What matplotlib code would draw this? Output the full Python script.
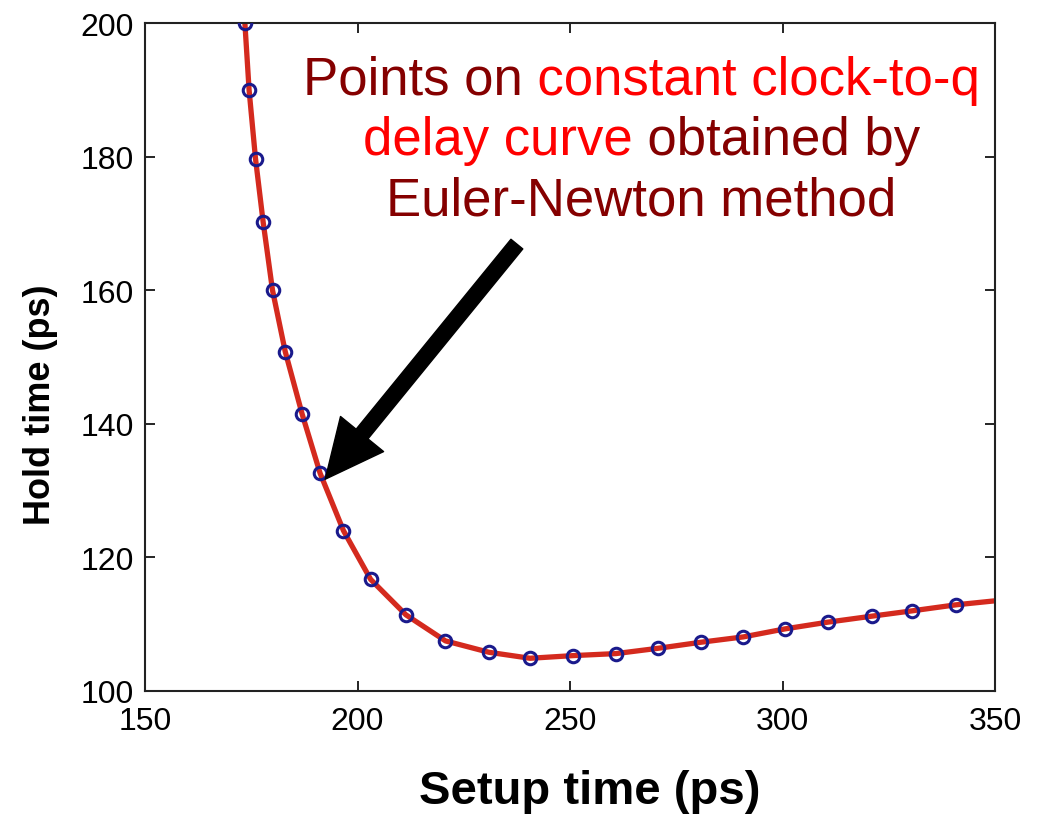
import matplotlib
matplotlib.use("Agg")
import matplotlib.pyplot as plt
from matplotlib.transforms import Bbox

# ---- data ----
setup_pts = [173.5, 174.5, 176.0, 177.8, 180.0, 183.0, 187.0, 191.2, 196.7, 203.1,
             211.4, 220.7, 230.9, 240.6, 250.8, 260.8, 270.8, 280.8, 290.8, 300.6,
             310.6, 321.0, 330.5, 340.8]
hold_pts = [200.0, 189.9, 179.7, 170.2, 160.0, 150.8, 141.4, 132.6, 124.0, 116.7,
            111.4, 107.5, 105.8, 104.9, 105.3, 105.6, 106.4, 107.3, 108.1, 109.3,
            110.3, 111.2, 112.0, 112.9]
curve_setup = setup_pts + [350.0]
curve_hold = hold_pts + [113.5]

xticks = [150, 200, 250, 300, 350]
yticks = [100, 120, 140, 160, 180, 200]

ann_lines = [
    [("Points on", "#850000"), ("constant clock-to-q", "#ff0000")],
    [("delay curve", "#ff0000"), ("obtained by", "#850000")],
    [("Euler-Newton method", "#850000")],
]
arrow_tip = (192.4, 131.7)
arrow_tail = (237.5, 166.9)

plt.rcParams['font.family'] = ['Liberation Sans', 'DejaVu Sans']

fig = plt.figure(figsize=(10.43, 8.20), dpi=100)
ax = fig.add_axes([145/1043, 1-692/820, (995-145)/1043, (692-24)/820])

ax.plot(curve_setup, curve_hold, color="#d42a1e", lw=3.8, zorder=2, solid_capstyle='butt')
ax.plot(setup_pts, hold_pts, linestyle='none', marker='o', markersize=9,
        markerfacecolor='none', markeredgecolor='#1a1a8c', markeredgewidth=2.2, zorder=3)

ax.set_xlim(150, 350)
ax.set_ylim(100, 200)
ax.set_xticks(xticks)
ax.set_yticks(yticks)
ax.tick_params(direction='in', length=7, width=1.2, top=True, right=True,
               labelsize=23, colors='black')
ax.tick_params(axis='x', pad=11)
ax.tick_params(axis='y', pad=8)
for s in ax.spines.values():
    s.set_linewidth(1.5)
    s.set_color('#222222')

ax.set_xlabel("Setup time (ps)", fontsize=34, fontweight='bold')
ax.set_ylabel("Hold time (ps)", fontsize=26, fontweight='bold')
ax.xaxis.set_label_coords((589.5 - 145) / 850, -(770 - 692) / 668)
ax.yaxis.set_label_coords((58 - 145) / 850, 1 - (405 - 24) / 668)

ax.annotate('', xy=arrow_tip, xytext=arrow_tail, xycoords='data', textcoords='data',
            arrowprops=dict(facecolor='black', edgecolor='black', width=11,
                            headwidth=40, headlength=42, shrink=0.0), zorder=4)

# ---- multi-coloured annotation text ----
center_x = 641.5 / 1043
baselines = [95, 155, 215]
fsize = 38
fig.canvas.draw()
renderer = fig.canvas.get_renderer()

def text_width(s):
    t = fig.text(0, 0, s, fontsize=fsize)
    w = t.get_window_extent(renderer).width
    t.remove()
    return w

space_w = text_width("a a") - text_width("aa")
H = fig.bbox.height
for segs, base in zip(ann_lines, baselines):
    full = " ".join(s for s, _ in segs)
    y = 1 - base / 820
    probe = fig.text(center_x, y, full, fontsize=fsize, ha='center', va='baseline')
    bb = probe.get_window_extent(renderer)
    probe.remove()
    x_cursor = bb.x0
    bounds = [x_cursor - 50]
    for i, (s, _) in enumerate(segs):
        x_cursor += text_width(s)
        if i < len(segs) - 1:
            bounds.append(x_cursor + space_w / 2)
            x_cursor += space_w
    bounds.append(bb.x1 + 50)
    for i, (s, c) in enumerate(segs):
        t = fig.text(center_x, y, full, fontsize=fsize, ha='center', va='baseline', color=c)
        t.set_clip_box(Bbox([[bounds[i], 0], [bounds[i + 1], H]]))
        t.set_clip_on(True)

fig.savefig("out.png", dpi=100)
